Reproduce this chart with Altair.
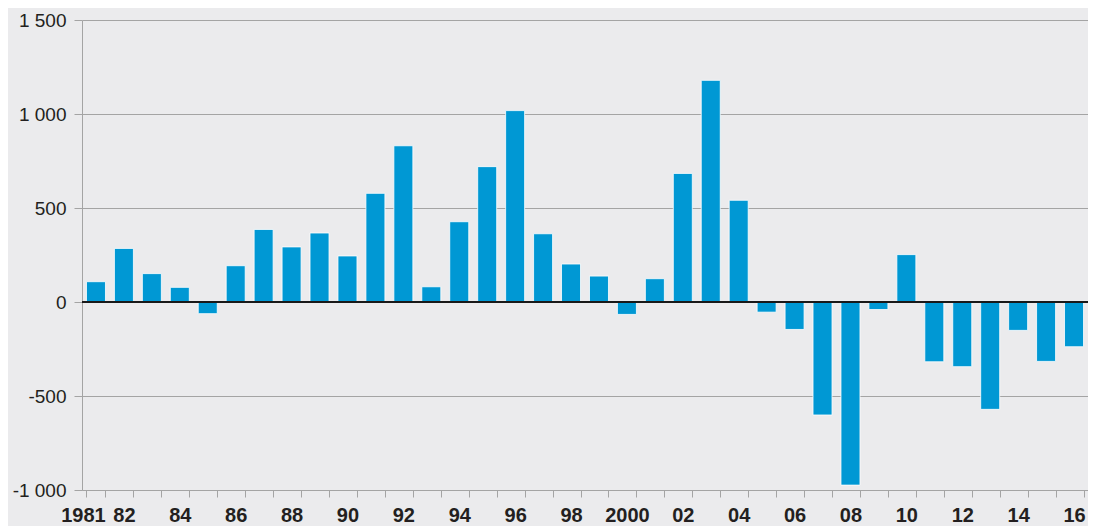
import json
import altair as alt
import pandas as pd

years = [str(y) for y in range(1981, 2017)]
values = [108, 285, 151, 78, -62, 193, 386, 293, 367, 245,
          578, 831, 81, 427, 720, 1018, 363, 202, 138, -66,
          124, 684, 1179, 541, -54, -146, -601, -974, -40, 252,
          -318, -344, -571, -151, -316, -238]
tick_labels = ["1981", "82", "", "84", "", "86", "", "88", "", "90",
               "", "92", "", "94", "", "96", "", "98", "", "2000",
               "", "02", "", "04", "", "06", "", "08", "", "10",
               "", "12", "", "14", "", "16"]
y_ticks = [-1000, -500, 0, 500, 1000, 1500]

df = pd.DataFrame({"year": years, "value": values})

FONT = "Liberation Sans"
BG = "#ebebed"
BAR = "#0098d4"
GRID = "#a4a4a4"
TEXT = "#231f20"

label_expr = f"{json.dumps(tick_labels)}[indexof({json.dumps(years)}, datum.value)]"
y_label_expr = "(datum.value < 0 ? '-' : '') + replace(format(abs(datum.value), ','), ',', ' ')"

x_enc = alt.X(
    "year:N",
    sort=years,
    title=None,
    scale=alt.Scale(paddingInner=0.32, paddingOuter=0.16),
    axis=alt.Axis(
        labelExpr=label_expr,
        labelAngle=0,
        labelFont=FONT,
        labelFontSize=20,
        labelFontWeight="bold",
        labelColor=TEXT,
        labelPadding=8,
        labelOverlap=False,
        labelOffset={"condition": {"test": "datum.value == '1981'", "value": -13}, "value": 0},
        tickBand="extent",
        tickSize=7,
        tickColor=GRID,
        domainColor=GRID,
        domainWidth=1,
        grid=False,
    ),
)

y_enc = alt.Y(
    "value:Q",
    title=None,
    scale=alt.Scale(domain=[-1000, 1500], nice=False, zero=False),
    axis=alt.Axis(
        values=y_ticks,
        labelExpr=y_label_expr,
        labelFont=FONT,
        labelFontSize=19,
        labelColor=TEXT,
        labelPadding=8,
        tickSize=8,
        tickColor=GRID,
        domainColor=GRID,
        gridColor=GRID,
        gridWidth=1,
    ),
)

bars = alt.Chart(df).mark_bar(
    color=BAR, stroke="#ffffff", strokeWidth=0.8
).encode(x=x_enc, y=y_enc)

zero = alt.Chart(df).mark_rule(color="#1a1a1a", strokeWidth=1.5).encode(
    y=alt.datum(0)
)

chart = (
    alt.layer(bars, zero)
    .properties(
        width=1006,
        height=470,
        background=BG,
        padding={"left": 74, "top": 12, "right": 0, "bottom": 36},
        autosize=alt.AutoSizeParams(type="none"),
    )
    .configure_view(stroke=None, fill=BG)
)

chart.save("out.html", embed_options={"renderer": "svg", "actions": False})
